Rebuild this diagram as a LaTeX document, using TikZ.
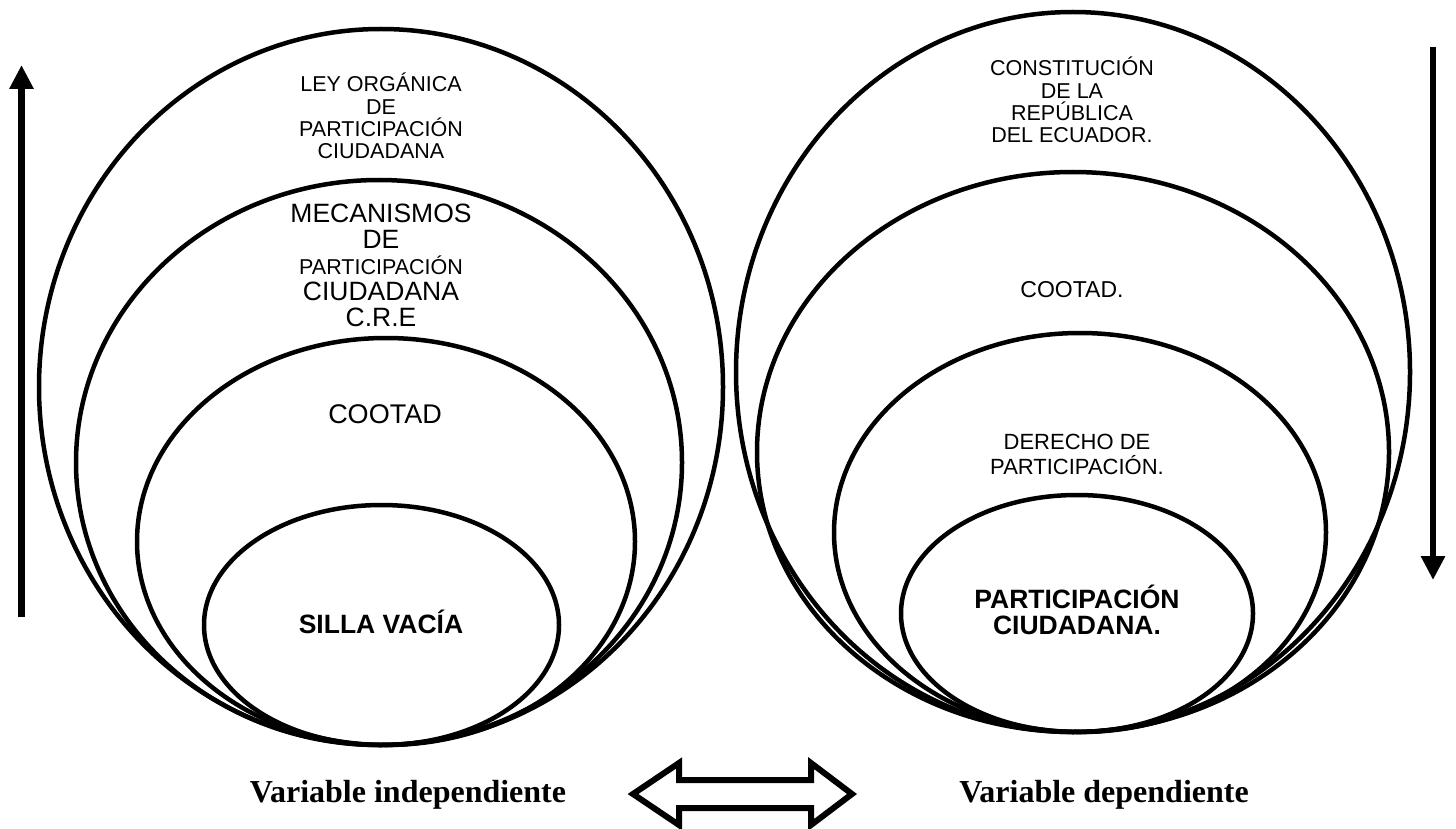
\documentclass[tikz,border=0pt]{standalone}
\usepackage{fontspec}
\setmainfont{Liberation Sans}
\newfontfamily\timesfont{Liberation Serif}
\usetikzlibrary{shapes}
\usetikzlibrary{arrows.meta}
\tikzset{
    ring/.style = {ellipse, draw=black, line width=4.5pt, inner sep=0pt},
    lbl/.style = {align=center, font=\fontsize{21.5}{22.3}\selectfont},
    lblm/.style = {align=center, font=\fontsize{26.5}{26}\selectfont},
    lblb/.style = {align=center, font=\bfseries\fontsize{26.5}{26}\selectfont},
    varl/.style = {anchor=base, font=\timesfont\bfseries\fontsize{32}{36}\selectfont},
    edgev/.style = {-{Triangle[length=24pt,width=23pt]}, line width=6.5pt},
    edgeo/.style = {line width=6pt, line join=miter}
}

\begin{document}
\begin{tikzpicture}[x=1pt,y=-1pt]
\useasboundingbox (0,0) rectangle (1456,829);

% independiente
\node[ring, minimum width=684pt, minimum height=716pt] at (381,387) (ley) {};
\node[ring, minimum width=606pt, minimum height=565pt] at (379,462.5) (mec) {};
\node[ring, minimum width=498pt, minimum height=407pt] at (386,541.5) (cootl) {};
\node[ring, minimum width=355pt, minimum height=240pt] at (381.5,625) (silla) {};

\node[lbl] at (381,116) (tley) {LEY ORGÁNICA\\DE\\PARTICIPACIÓN\\CIUDADANA};
\node[lblm] at (381,265) (tmec) {MECANISMOS\\DE\\{\fontsize{21.5}{26}\selectfont PARTICIPACIÓN}\\CIUDADANA\\C.R.E};
\node[lblm, font=\fontsize{27}{28}\selectfont] at (385,414) (tcootl) {COOTAD};
\node[lblb] at (381,622) (tsilla) {SILLA VACÍA};

% dependiente
\node[ring, minimum width=674pt, minimum height=720pt] at (1073,372) (cons) {};
\node[ring, minimum width=632pt, minimum height=560pt] at (1073,452) (cootr) {};
\node[ring, minimum width=492pt, minimum height=399pt] at (1080,532.5) (der) {};
\node[ring, minimum width=352pt, minimum height=237pt] at (1077,613.5) (part) {};

\node[lbl] at (1072,100) (tcons) {CONSTITUCIÓN\\DE LA\\REPÚBLICA\\DEL ECUADOR.};
\node[lbl, font=\fontsize{23}{26}\selectfont] at (1072,290) (tcootr) {COOTAD.};
\node[lbl, font=\fontsize{22}{25}\selectfont] at (1077,454) (tder) {DERECHO DE\\PARTICIPACIÓN.};
\node[lblb] at (1077,610) (tpart) {PARTICIPACIÓN\\CIUDADANA.};

% flechas
\coordinate (upb) at (21.5,617);
\coordinate (upt) at (21.5,65);
\draw[edgev] (upb) -- (upt);
\coordinate (dnt) at (1433,47);
\coordinate (dnb) at (1433,580);
\draw[edgev] (dnt) -- (dnb);

\draw[edgeo] (633,794) -- (679,763) -- (679,780) -- (811,780) -- (811,763)
  -- (852,794) -- (811,825) -- (811,808) -- (679,808) -- (679,825) -- cycle;

\node[varl] at (408,802) (vind) {Variable independiente};
\node[varl] at (1104,802) (vdep) {Variable dependiente};

\end{tikzpicture}
\end{document}
